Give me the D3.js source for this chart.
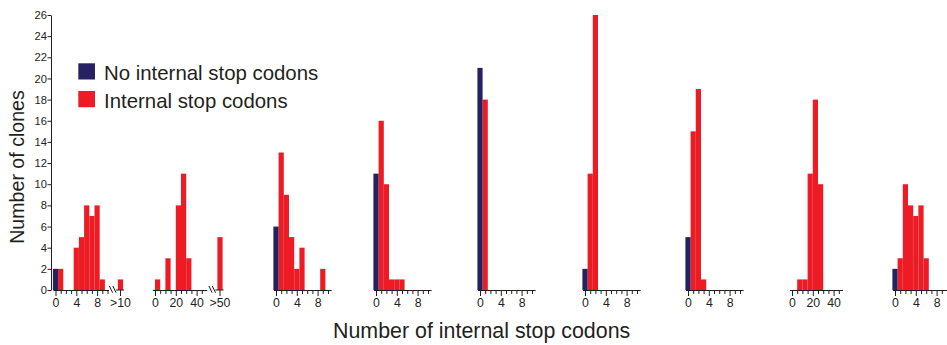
<!DOCTYPE html>
<html>
<head>
<meta charset="utf-8">
<script src="https://cdn.jsdelivr.net/npm/d3@7"></script>
<style>
body { margin: 0; background: #fff; }
svg { display: block; font-family: "Liberation Sans", Arial, sans-serif; }
</style>
</head>
<body>
<svg id="chart" width="947" height="345"></svg>
<script>
// clones without any internal stop codon (bar at 0), one per panel
const blueCounts = [2, 0, 6, 11, 21, 2, 5, 0, 2]
// clones with internal stop codons, one value per bin starting at bin 0
const redCounts = [
	[0, 2, 0, 0, 4, 5, 8, 7, 8, 1],
	[1, 0, 3, 0, 8, 11, 3],
	[0, 13, 9, 5, 2, 4, 0, 0, 0, 2],
	[0, 16, 10, 1, 1, 1],
	[0, 18],
	[0, 11, 26],
	[0, 15, 19, 1],
	[0, 1, 1, 11, 18, 10],
	[0, 3, 10, 8, 7, 8, 3],
]
const binWidths = [1, 5, 1, 1, 1, 1, 1, 5, 1]
const overflowLabels = [">10", ">50", null, null, null, null, null, null, null]
const overflowCounts = [1, 5, 0, 0, 0, 0, 0, 0, 0]
const tickLabels = [[0, 4, 8], [0, 20, 40], [0, 4, 8], [0, 4, 8], [0, 4, 8], [0, 4, 8], [0, 4, 8], [0, 20, 40], [0, 4, 8]]
const yTicks = d3.range(0, 27, 2)
const legendLabels = ["No internal stop codons", "Internal stop codons"]
const xTitle = "Number of internal stop codons"
const yTitle = "Number of clones"

const blue = "#262262", red = "#ed1c24", ink = "#231f20"

// layout
const panelX0 = [55.5, 155, 276, 376, 480, 585, 688, 792, 895]
const binOffset = [0, 0.5, 0, 0, 0, 0, 0, 0.5, 0]
const axisEnd = [10.2, 9.94, 10.6, 10.6, 10.6, 10.6, 10.6, 9.7, 10.6]
const binPx = 5.2
const base = 290

const svg = d3.select("#chart")

const y = d3.scaleLinear().domain([0, 26]).range([base, 15])

const yAxis = svg.append("g")
	.attr("transform", "translate(51,0)")
	.call(d3.axisLeft(y).tickValues(yTicks).tickSize(3.5).tickPadding(0.5).tickSizeOuter(0))
yAxis.selectAll("text").attr("font-size", 11.2).attr("fill", ink).attr("font-family", null)
yAxis.selectAll("line, path").attr("stroke", ink)

redCounts.forEach((counts, p) => {
	const bw = binWidths[p]
	const x0 = panelX0[p]
	const x = d3.scaleLinear()
		.domain([-0.5 * bw, axisEnd[p] * bw])
		.range([x0 - 0.5 * binPx, x0 + axisEnd[p] * binPx])
	const w = x(bw) - x(0)
	const g = svg.append("g")

	// red bars
	g.selectAll("rect.red")
		.data(counts.map((c, i) => ({c, center: (i + binOffset[p]) * bw})).filter(d => d.c > 0))
		.join("rect")
		.attr("class", "red")
		.attr("x", d => x(d.center - bw / 2))
		.attr("width", w)
		.attr("y", d => y(d.c))
		.attr("height", d => y(0) - y(d.c))
		.attr("fill", red)

	if (blueCounts[p] > 0)
		g.append("rect")
			.attr("x", x(-bw / 2))
			.attr("width", w)
			.attr("y", y(blueCounts[p]))
			.attr("height", y(0) - y(blueCounts[p]))
			.attr("fill", blue)

	// x axis
	const ticks = d3.range(0, axisEnd[p] * bw + 1e-9, bw)
	const ax = g.append("g")
		.attr("transform", "translate(0," + base + ")")
		.call(d3.axisBottom(x).tickValues(ticks).tickSize(6).tickSizeOuter(0).tickPadding(2)
			.tickFormat(d => tickLabels[p].includes(d) ? d : ""))
	ax.selectAll(".tick").filter(d => !tickLabels[p].includes(d)).select("line").attr("y2", 4)
	ax.selectAll("text").attr("font-size", 12.3).attr("fill", ink).attr("font-family", null)
	ax.selectAll("line, path").attr("stroke", ink)

	if (overflowLabels[p]) {
		const ov = 12.5 * bw
		g.append("rect")
			.attr("x", x(ov - bw / 2))
			.attr("width", w)
			.attr("y", y(overflowCounts[p]))
			.attr("height", y(0) - y(overflowCounts[p]))
			.attr("fill", red)
		g.append("line")
			.attr("x1", x(11.6 * bw)).attr("x2", x(13.2 * bw))
			.attr("y1", base).attr("y2", base)
			.attr("stroke", ink)
		g.append("line")
			.attr("x1", x(ov)).attr("x2", x(ov))
			.attr("y1", base).attr("y2", base + 6)
			.attr("stroke", ink)
		g.append("text")
			.attr("x", x(ov)).attr("y", base + 8).attr("dy", "0.71em")
			.attr("text-anchor", "middle").attr("font-size", 12.3).attr("fill", ink)
			.text(overflowLabels[p])
		// axis break marks
		const xb = x(11 * bw)
		;[-1.7, 1.7].forEach(o => {
			g.append("line")
				.attr("x1", xb + o - 1.6).attr("y1", base - 4)
				.attr("x2", xb + o + 1.6).attr("y2", base + 2.7)
				.attr("stroke", ink).attr("stroke-width", 1)
		})
	}
})

// legend
const legend = svg.append("g")
legendLabels.forEach((label, i) => {
	legend.append("rect")
		.attr("x", 78.3).attr("y", 63.3 + i * 27.7)
		.attr("width", 16.7).attr("height", 16.2)
		.attr("fill", i === 0 ? blue : red)
	legend.append("text")
		.attr("x", 104).attr("y", 80 + i * 27.7)
		.attr("font-size", 20.4).attr("fill", ink)
		.text(label)
})

// titles
svg.append("text")
	.attr("x", 333).attr("y", 338)
	.attr("font-size", 21.4).attr("fill", ink)
	.text(xTitle)

svg.append("text")
	.attr("transform", "translate(24,167) rotate(-90)")
	.attr("text-anchor", "middle")
	.attr("font-size", 19.6).attr("fill", ink)
	.text(yTitle)
</script>
</body>
</html>
